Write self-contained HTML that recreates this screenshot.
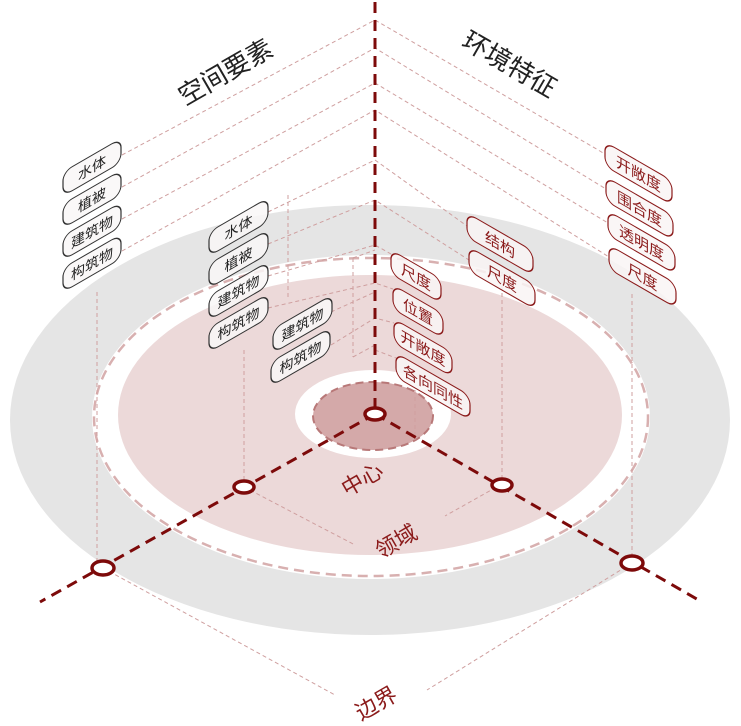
<!DOCTYPE html>
<html><head><meta charset="utf-8"><style>
html,body{margin:0;padding:0;background:#fff;}
svg{display:block;}
text{font-family:"Liberation Sans","Noto Sans CJK SC",sans-serif;}
</style></head><body>
<svg width="741" height="726" viewBox="0 0 741 726" xmlns="http://www.w3.org/2000/svg">
<ellipse cx="370" cy="420" rx="360" ry="215" fill="#e5e5e5"/>
<ellipse cx="371" cy="417" rx="279" ry="162" fill="#fff"/>
<ellipse cx="371" cy="417" rx="277" ry="159" fill="none" stroke="#d8b0b0" stroke-width="2.5" stroke-dasharray="10 6"/>
<ellipse cx="370" cy="415" rx="252" ry="140" fill="#ecd9d9"/>
<ellipse cx="373" cy="414" rx="78" ry="44" fill="#fff"/>
<ellipse cx="373" cy="416" rx="60" ry="34" fill="#d4a9a9" stroke="#b87878" stroke-width="2" stroke-dasharray="8 5"/>

<g stroke="#cf9f9f" stroke-width="1" fill="none" stroke-dasharray="4 3">
<polyline points="122,155 375,20 605,154"/>
<polyline points="122,187 375,48 606,189"/>
<polyline points="122,219 375,83 608,223"/>
<polyline points="122,251 375,110 609,257"/>
<polyline points="268,212 375,160 467,226"/>
<polyline points="268,244 375,200 469,260"/>
<polyline points="268,276 375,245 391,254"/>
<polyline points="268,308 375,283 393,289"/>
<polyline points="331,312 375,292"/>
<polyline points="331,345 375,318 394,323"/>
<polyline points="375,350 396,358"/>
<line x1="288" y1="195" x2="288" y2="300"/>
<line x1="353" y1="258" x2="353" y2="357"/>
<line x1="353" y1="258" x2="375" y2="250"/>
<line x1="353" y1="357" x2="375" y2="345"/>
<line x1="97" y1="292" x2="97" y2="568"/>
<line x1="244" y1="350" x2="244" y2="487"/>
<line x1="502" y1="272" x2="502" y2="484"/>
<line x1="632" y1="294" x2="632" y2="563"/>
<line x1="415" y1="390" x2="415" y2="440"/>
<line x1="103" y1="568" x2="335" y2="695"/>
<line x1="632" y1="563" x2="427" y2="690"/>
<line x1="244" y1="487" x2="355" y2="545"/>
<line x1="502" y1="484" x2="445" y2="516"/>
</g>

<g stroke="#7d0a0a" stroke-width="3" fill="none" stroke-dasharray="11 7">
<line x1="375" y1="2" x2="375" y2="410"/>
<line x1="375" y1="414" x2="40" y2="602"/>
<line x1="375" y1="414" x2="702" y2="602"/>
</g>
<g stroke="#7d0a0a" stroke-width="3.5" fill="#fff">
<ellipse cx="375" cy="414" rx="10" ry="6"/>
<ellipse cx="244" cy="487" rx="10" ry="6"/>
<ellipse cx="502" cy="485" rx="10" ry="6"/>
<ellipse cx="103" cy="568" rx="11" ry="7"/>
<ellipse cx="632" cy="563" rx="11" ry="7"/>
</g>

<g stroke="#333" stroke-width="1.2" fill="#f9f7f7" font-size="14" fill-opacity="0.85">
<g transform="translate(63,172) skewY(-30)"><rect width="58" height="24" rx="9"/><text x="29" y="17.5" text-anchor="middle" fill="#222" fill-opacity="1" stroke="none">水体</text></g>
<g transform="translate(63,204) skewY(-30)"><rect width="58" height="24" rx="9"/><text x="29" y="17.5" text-anchor="middle" fill="#222" fill-opacity="1" stroke="none">植被</text></g>
<g transform="translate(63,236) skewY(-30)"><rect width="58" height="24" rx="9"/><text x="29" y="17.5" text-anchor="middle" fill="#222" fill-opacity="1" stroke="none">建筑物</text></g>
<g transform="translate(63,268) skewY(-30)"><rect width="58" height="24" rx="9"/><text x="29" y="17.5" text-anchor="middle" fill="#222" fill-opacity="1" stroke="none">构筑物</text></g>
<g transform="translate(209,232) skewY(-30)"><rect width="59" height="24" rx="9"/><text x="29.5" y="17.5" text-anchor="middle" fill="#222" fill-opacity="1" stroke="none">水体</text></g>
<g transform="translate(209,264) skewY(-30)"><rect width="59" height="24" rx="9"/><text x="29.5" y="17.5" text-anchor="middle" fill="#222" fill-opacity="1" stroke="none">植被</text></g>
<g transform="translate(209,296) skewY(-30)"><rect width="59" height="24" rx="9"/><text x="29.5" y="17.5" text-anchor="middle" fill="#222" fill-opacity="1" stroke="none">建筑物</text></g>
<g transform="translate(209,328) skewY(-30)"><rect width="59" height="24" rx="9"/><text x="29.5" y="17.5" text-anchor="middle" fill="#222" fill-opacity="1" stroke="none">构筑物</text></g>
<g transform="translate(273,329) skewY(-30)"><rect width="59" height="24" rx="9"/><text x="29.5" y="17.5" text-anchor="middle" fill="#222" fill-opacity="1" stroke="none">建筑物</text></g>
<g transform="translate(271,362) skewY(-30)"><rect width="59" height="24" rx="9"/><text x="29.5" y="17.5" text-anchor="middle" fill="#222" fill-opacity="1" stroke="none">构筑物</text></g>
</g>

<g stroke="#8b1a1a" stroke-width="1.2" fill="#f9f5f5" font-size="15" fill-opacity="0.85">
<g transform="translate(391,250) skewY(30)"><rect width="50" height="24" rx="9"/><text x="25" y="18" text-anchor="middle" fill="#8b1a1a" fill-opacity="1" stroke="none">尺度</text></g>
<g transform="translate(393,285) skewY(30)"><rect width="50" height="24" rx="9"/><text x="25" y="18" text-anchor="middle" fill="#8b1a1a" fill-opacity="1" stroke="none">位置</text></g>
<g transform="translate(394,319) skewY(30)"><rect width="58" height="24" rx="9"/><text x="29" y="18" text-anchor="middle" fill="#8b1a1a" fill-opacity="1" stroke="none">开敞度</text></g>
<g transform="translate(396,353) skewY(30)"><rect width="74" height="24" rx="9"/><text x="37" y="18" text-anchor="middle" fill="#8b1a1a" fill-opacity="1" stroke="none">各向同性</text></g>
<g transform="translate(467,213) skewY(30)"><rect width="66" height="24" rx="9"/><text x="33" y="18" text-anchor="middle" fill="#8b1a1a" fill-opacity="1" stroke="none">结构</text></g>
<g transform="translate(469,247) skewY(30)"><rect width="66" height="24" rx="9"/><text x="33" y="18" text-anchor="middle" fill="#8b1a1a" fill-opacity="1" stroke="none">尺度</text></g>
<g transform="translate(605,142) skewY(30)"><rect width="67" height="24" rx="9"/><text x="33.5" y="18" text-anchor="middle" fill="#8b1a1a" fill-opacity="1" stroke="none">开敞度</text></g>
<g transform="translate(606,177) skewY(30)"><rect width="67" height="24" rx="9"/><text x="33.5" y="18" text-anchor="middle" fill="#8b1a1a" fill-opacity="1" stroke="none">围合度</text></g>
<g transform="translate(608,211) skewY(30)"><rect width="67" height="24" rx="9"/><text x="33.5" y="18" text-anchor="middle" fill="#8b1a1a" fill-opacity="1" stroke="none">透明度</text></g>
<g transform="translate(609,245) skewY(30)"><rect width="67" height="24" rx="9"/><text x="33.5" y="18" text-anchor="middle" fill="#8b1a1a" fill-opacity="1" stroke="none">尺度</text></g>
</g>

<text transform="translate(230,80) rotate(-30)" font-size="26" text-anchor="middle" fill="#222">空间要素</text>
<text transform="translate(505,72) rotate(30)" font-size="26" text-anchor="middle" fill="#222">环境特征</text>
<text transform="translate(366,486) rotate(-30)" font-size="22" text-anchor="middle" fill="#8b1a1a">中心</text>
<text transform="translate(400,548) rotate(-30)" font-size="22" text-anchor="middle" fill="#8b1a1a">领域</text>
<text transform="translate(380,710) rotate(-30)" font-size="22" text-anchor="middle" fill="#8b1a1a">边界</text>
</svg>
</body></html>
